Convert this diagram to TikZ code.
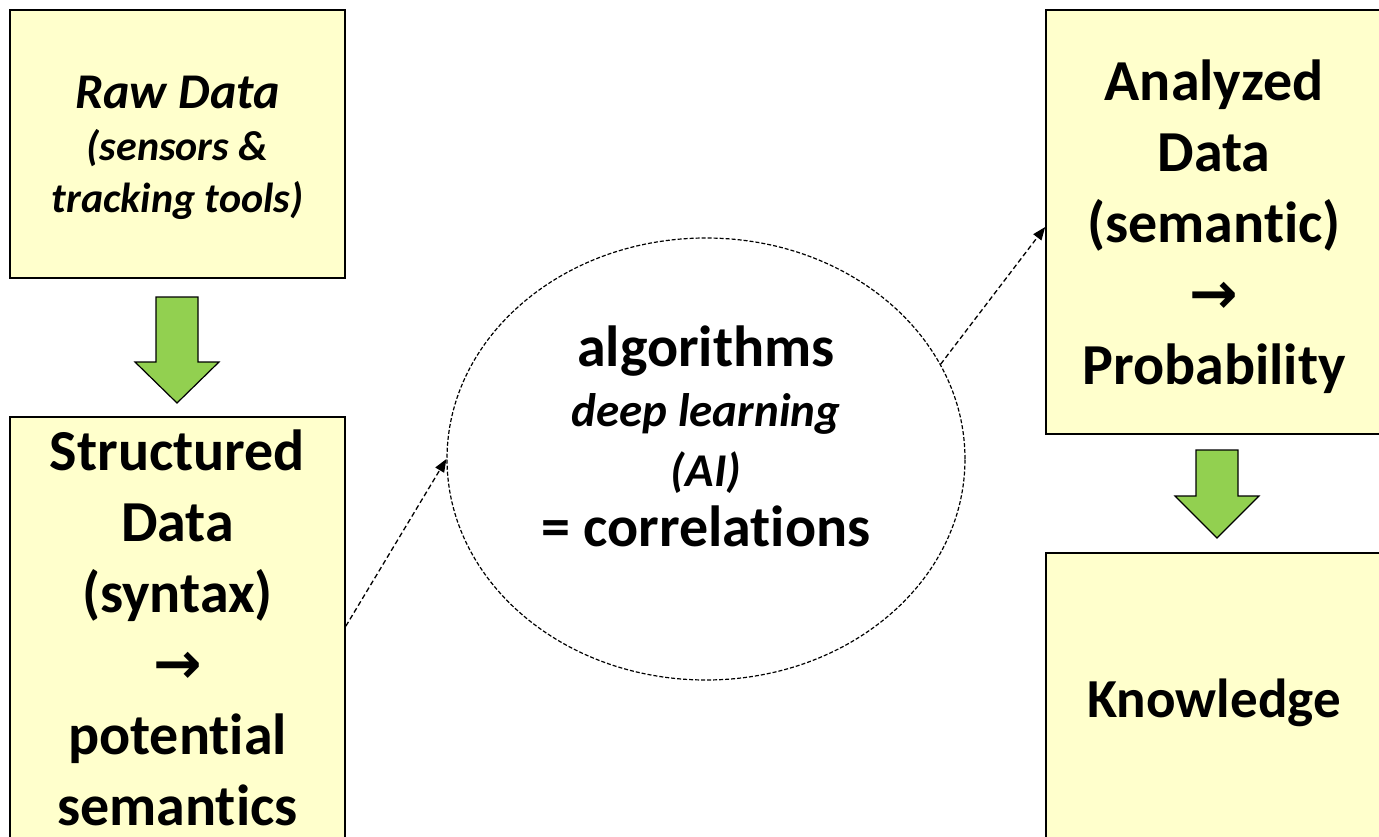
\documentclass[tikz,border=0pt]{standalone}
\usepackage{fontspec}
\setmainfont{Carlito}[Ligatures={NoCommon,NoContextual},RawFeature={-liga;-clig;-calt;-dlig}]
\newfontfamily\symfont{DejaVu Sans}
\usetikzlibrary{shapes.geometric,arrows.meta,calc}
\definecolor{boxfill}{HTML}{FFFFCC}
\definecolor{arrowgreen}{HTML}{92D050}
\newcommand{\nti}{t\kern0pt i}
\begin{document}
\begin{tikzpicture}[x=1pt,y=-1pt,
  box/.style={draw=black,line width=1.6pt,fill=boxfill,rectangle,inner sep=0pt,
    align=center,font=\bfseries\fontsize{58}{71}\selectfont},
  smallbox/.style={box,font=\bfseries\itshape\fontsize{42}{52}\selectfont},
  blockarrow/.style={draw=black,line width=1.2pt,fill=arrowgreen,line join=miter},
  dasharrow/.style={draw=black,line width=1.3pt,dash pattern=on 5pt off 3pt,
    -{Triangle[length=13pt,width=10pt]}},
  cloud/.style={ellipse,draw=black,line width=1.2pt,dash pattern=on 4pt off 2pt,
    minimum width=518pt,minimum height=442pt,inner sep=0pt},
  lbl/.style={align=center,inner sep=0pt,font=\bfseries\fontsize{58}{60}\selectfont}]
\useasboundingbox (0,0) rectangle (1379,837);
\clip (0,0) rectangle (1379,837);
\fill[white] (0,0) rectangle (1379,837);

\node[smallbox,minimum width=335pt,minimum height=268pt,text depth=-14pt] (raw) at (177.5,144)
  {{\fontsize{50}{54}\selectfont Raw Data}\\(sensors \&\\tracking tools)};
\node[box,minimum width=335pt,minimum height=428pt,text depth=6pt] (struct) at (177.5,631)
  {Structured\\Data\\(syntax)\\{\symfont →}\\poten\nti al\\seman\nti cs};
\node[box,minimum width=336pt,minimum height=424pt,text depth=-14pt] (anal) at (1214,222)
  {Analyzed\\Data\\(seman\nti c)\\{\symfont →}\\Probability};
\node[box,minimum width=336pt,minimum height=290pt,text depth=-10pt,
  font=\bfseries\fontsize{55}{66}\selectfont] (know) at (1214,698)
  {Knowledge};

\node[cloud] (ell) at (706,459) {};
\node[lbl] (elltext) at (706,436)
  {algorithms\\{\itshape\fontsize{47}{60}\selectfont deep learning}\\{\itshape\fontsize{47}{58}\selectfont (AI)}\\= correla\nti ons};

% green block arrows
\draw[blockarrow] (156,297) -- (198,297) -- (198,362) -- (219,362) -- (177,403)
  -- (135,362) -- (156,362) -- cycle;
\draw[blockarrow] (1196,450) -- (1238,450) -- (1238,496) -- (1259,496) -- (1217,538)
  -- (1175,496) -- (1196,496) -- cycle;

% dashed connectors
\coordinate (s1) at ($(struct.north east)+(0,210)$);
\coordinate (a1) at ($(anal.west)+(0,5)$);
\draw[dasharrow] (s1) -- (ell.west);
\draw[dasharrow] (ell.22) -- (a1);
\end{tikzpicture}
\end{document}
